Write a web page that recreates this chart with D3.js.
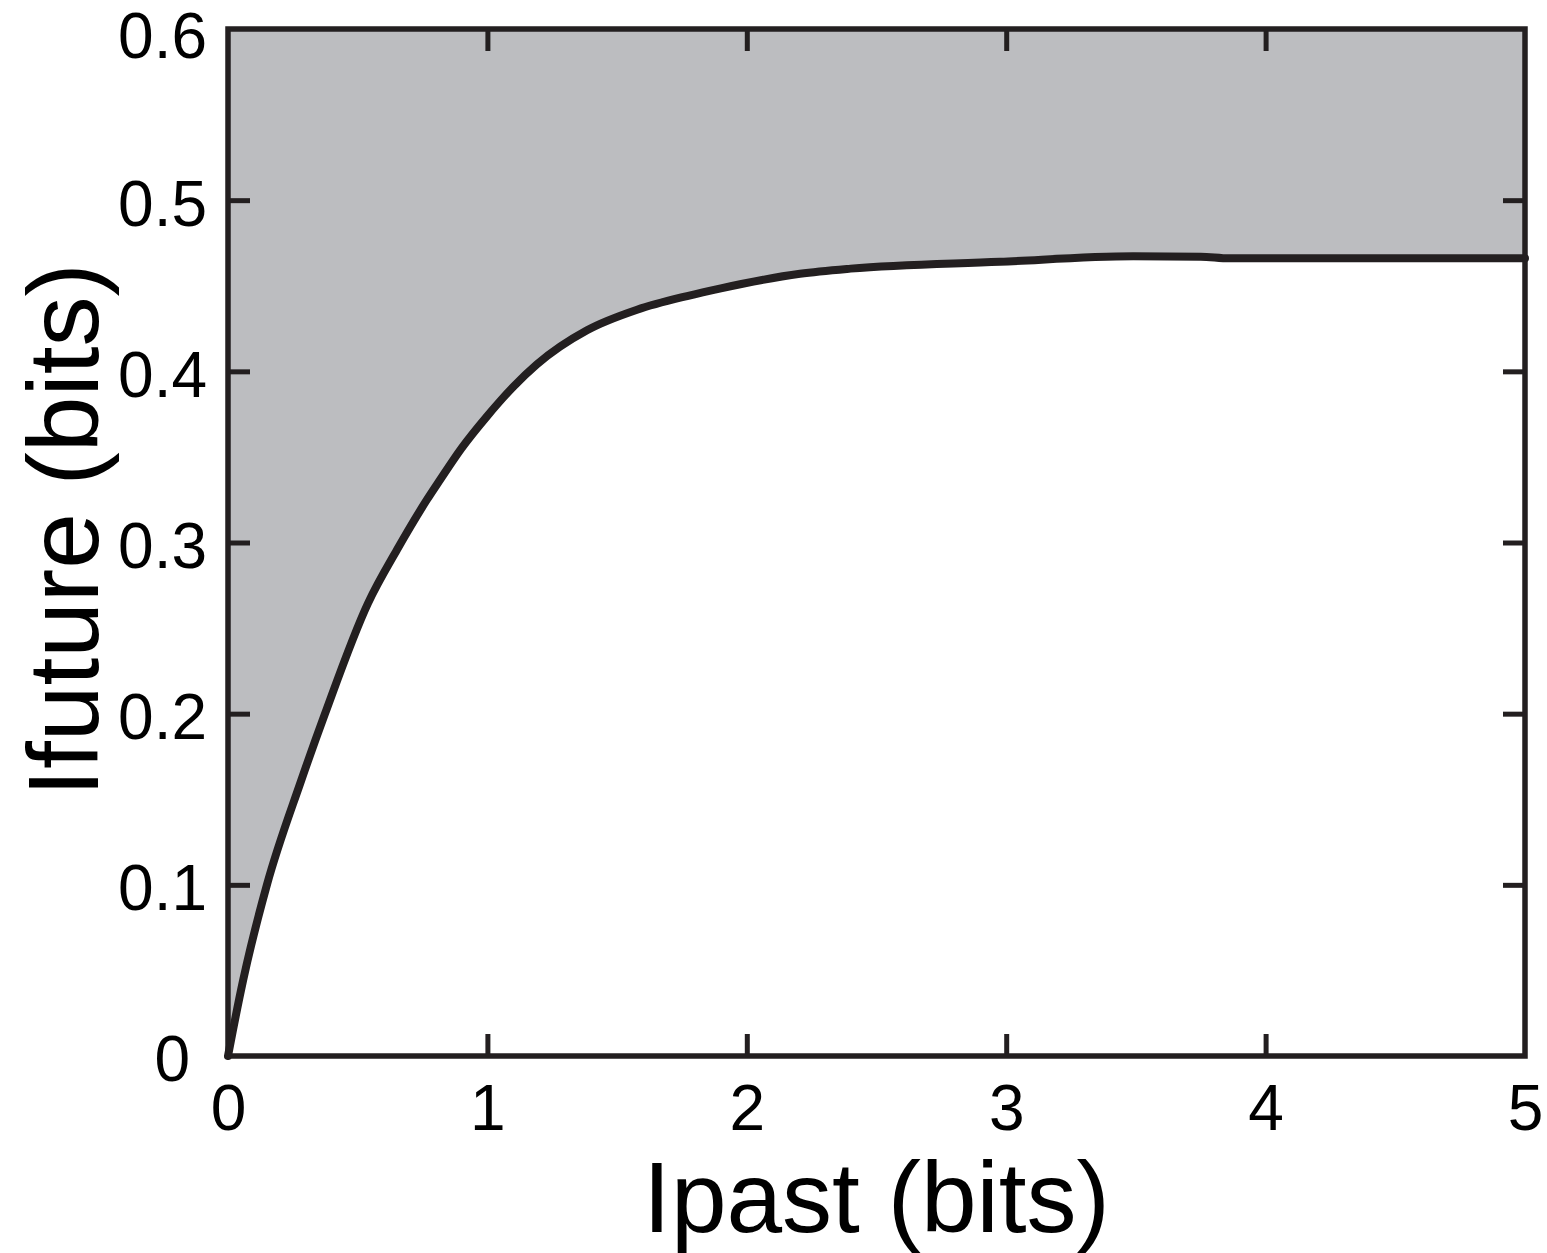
<!DOCTYPE html>
<html>
<head>
<meta charset="utf-8">
<script src="https://cdn.jsdelivr.net/npm/d3@7"></script>
<style>
  html, body { margin: 0; padding: 0; background: #ffffff; }
  svg { display: block; }
  text { font-family: "Liberation Sans", Arial, Helvetica, sans-serif; fill: #000; }
</style>
</head>
<body>
<svg id="chart" width="1547" height="1253"></svg>
<script>
// ---- data ----
const ipast   = [0, 0.019, 0.058, 0.150, 0.28, 0.374, 0.54, 0.651, 0.767, 0.817, 0.9, 1.0, 1.1, 1.19, 1.384, 1.577, 1.77, 1.9, 2.205, 2.40, 2.976, 3.49, 3.75, 3.86, 5.0];
const ifuture = [0, 0.015, 0.044, 0.100, 0.160, 0.200, 0.2646, 0.2956, 0.325, 0.3365, 0.355, 0.374, 0.391, 0.404, 0.424, 0.436, 0.444, 0.4485, 0.457, 0.460, 0.464, 0.4672, 0.467, 0.466, 0.466];
const xTicks = [0, 1, 2, 3, 4, 5];
const yTicks = [0, 0.1, 0.2, 0.3, 0.4, 0.5, 0.6];
const xDomain = [0, 5];
const yDomain = [0, 0.6];
const xLabel = "Ipast (bits)";
const yLabel = "Ifuture (bits)";

// ---- layout ----
const W = 1547, H = 1253;
const L = 228, R = 1525, T = 29, B = 1056;
const ink = "#231f20";
const fillGray = "#bcbdc0";

const svg = d3.select("#chart");
const x = d3.scaleLinear().domain(xDomain).range([L, R]);
const y = d3.scaleLinear().domain(yDomain).range([B, T]);

const pts = ipast.map((v, i) => [v, ifuture[i]]);

// shaded region: above curve, up to top of axes
const area = d3.area()
  .x(d => x(d[0]))
  .y0(y(yDomain[1]))
  .y1(d => y(d[1]))
  .curve(d3.curveMonotoneX);
svg.append("path").datum(pts)
  .attr("d", area)
  .attr("fill", fillGray);

// curve
const line = d3.line()
  .x(d => x(d[0]))
  .y(d => y(d[1]))
  .curve(d3.curveMonotoneX);
svg.append("path").datum(pts)
  .attr("d", line)
  .attr("fill", "none")
  .attr("stroke", ink)
  .attr("stroke-width", 8)
  .attr("stroke-linejoin", "round")
  .attr("stroke-linecap", "round");

// axes (ticks inward, on all four sides)
const tickLen = 22;
const fs = 64;
const gB = svg.append("g").attr("transform", `translate(0,${B})`)
  .call(d3.axisBottom(x).tickValues(xTicks).tickSizeInner(-tickLen).tickSizeOuter(0).tickPadding(0).tickFormat(d3.format("d")));
const gT = svg.append("g").attr("transform", `translate(0,${T})`)
  .call(d3.axisTop(x).tickValues(xTicks.slice(1, -1)).tickSizeInner(-tickLen).tickSizeOuter(0).tickFormat(""));
const gL = svg.append("g").attr("transform", `translate(${L},0)`)
  .call(d3.axisLeft(y).tickValues(yTicks).tickSizeInner(-tickLen).tickSizeOuter(0).tickFormat(d => d === 0 ? "0" : d3.format(".1f")(d)));
const gR = svg.append("g").attr("transform", `translate(${R},0)`)
  .call(d3.axisRight(y).tickValues(yTicks.slice(1, -1)).tickSizeInner(-tickLen).tickSizeOuter(0).tickFormat(""));

[gB, gT, gL, gR].forEach(g => {
  g.select(".domain").remove();
  g.selectAll(".tick line").attr("stroke", ink).attr("stroke-width", 5);
});
// remove ticks that coincide with the frame corners
gB.selectAll(".tick").filter(d => d === xDomain[0] || d === xDomain[1]).select("line").remove();
gL.selectAll(".tick").filter(d => d === yDomain[0] || d === yDomain[1]).select("line").remove();

gB.selectAll(".tick text")
  .attr("font-size", fs).attr("fill", "#000")
  .attr("font-family", "Liberation Sans, Arial, sans-serif")
  .attr("y", 1130 - B).attr("dy", 0);
gL.selectAll(".tick text")
  .attr("font-size", fs).attr("fill", "#000")
  .attr("font-family", "Liberation Sans, Arial, sans-serif")
  .attr("text-anchor", "end")
  .attr("x", d => d === 0 ? 190 - L : 207 - L)
  .attr("dy", d => d === 0 ? 24 : (d === yDomain[1] ? 28 : 25));

// frame
svg.append("rect")
  .attr("x", L).attr("y", T)
  .attr("width", R - L).attr("height", B - T)
  .attr("fill", "none")
  .attr("stroke", ink)
  .attr("stroke-width", 5.5);

// axis labels
svg.append("text")
  .attr("x", (L + R) / 2).attr("y", 1232)
  .attr("text-anchor", "middle")
  .attr("font-size", 100)
  .text(xLabel);
svg.append("text")
  .attr("transform", "translate(98,530) rotate(-90)")
  .attr("text-anchor", "middle")
  .attr("font-size", 100)
  .text(yLabel);
</script>
</body>
</html>
